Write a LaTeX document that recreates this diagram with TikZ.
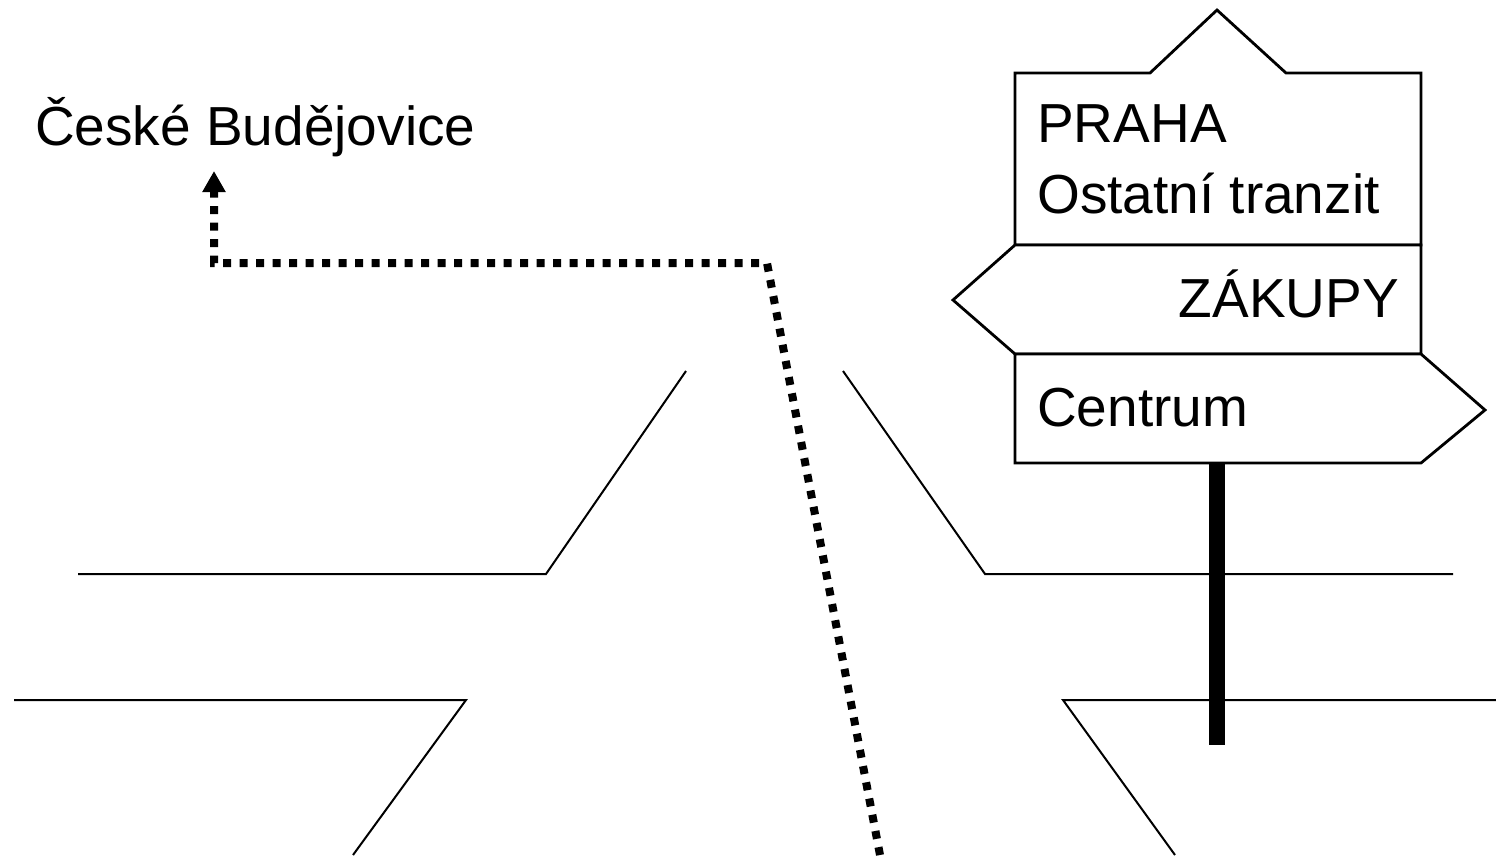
\documentclass[tikz,border=0pt]{standalone}
\usepackage{fontspec}
\setmainfont{Liberation Sans}
\usetikzlibrary{arrows.meta, positioning}
\definecolor{Black}{HTML}{000000}

\begin{document}
\begin{tikzpicture}[
  x=1pt, y=-1pt,
  road/.style={draw=Black, line width=2pt},
  board/.style={draw=Black, line width=2.8pt, fill=white, line join=miter},
  pole/.style={draw=Black, line width=16pt},
  route/.style={draw=Black, line width=8pt, dash pattern=on 8pt off 8.5pt, -{Triangle[length=21pt, width=22pt]}},
  place/.style={font=\fontsize{55}{71}\selectfont, inner sep=0pt, align=left, color=Black}
]
\useasboundingbox (0,0) rectangle (1496,855);

% roads
\draw[road] (78,574) -- (546,574) -- (686,371);
\draw[road] (843,371) -- (985,574) -- (1453,574);
\draw[road] (14,700) -- (466,700) -- (353,855);
\draw[road] (1496,700) -- (1063,700) -- (1175,855);

% sign post
\draw[pole] (1217,463) -- (1217,745);
\draw[board] (1015,73) -- (1150,73) -- (1217,10) -- (1286,73) -- (1421,73) -- (1421,245) -- (1015,245) -- cycle;
\draw[board] (1015,245) -- (1421,245) -- (1421,354) -- (1015,354) -- (953,300) -- cycle;
\draw[board] (1015,354) -- (1421,354) -- (1485,410) -- (1421,463) -- (1015,463) -- cycle;

\node[place, anchor=base west] (praha) at (1037,213) {PRAHA\\Ostatní tranzit};
\node[place, anchor=base east] (zakupy) at (1399,317) {ZÁKUPY};
\node[place, anchor=base west] (centrum) at (1037,426) {Centrum};
\node[place, anchor=base west] (budejovice) at (35,145) {České Budějovice};

% route to the left
\coordinate (start) at (880,855);
\coordinate (bendA) at (767,263);
\coordinate (bendB) at (214,263);
\coordinate (tip) at (214,171);
\draw[route] (start) -- (bendA) -- (bendB) -- (tip);
\end{tikzpicture}
\end{document}
